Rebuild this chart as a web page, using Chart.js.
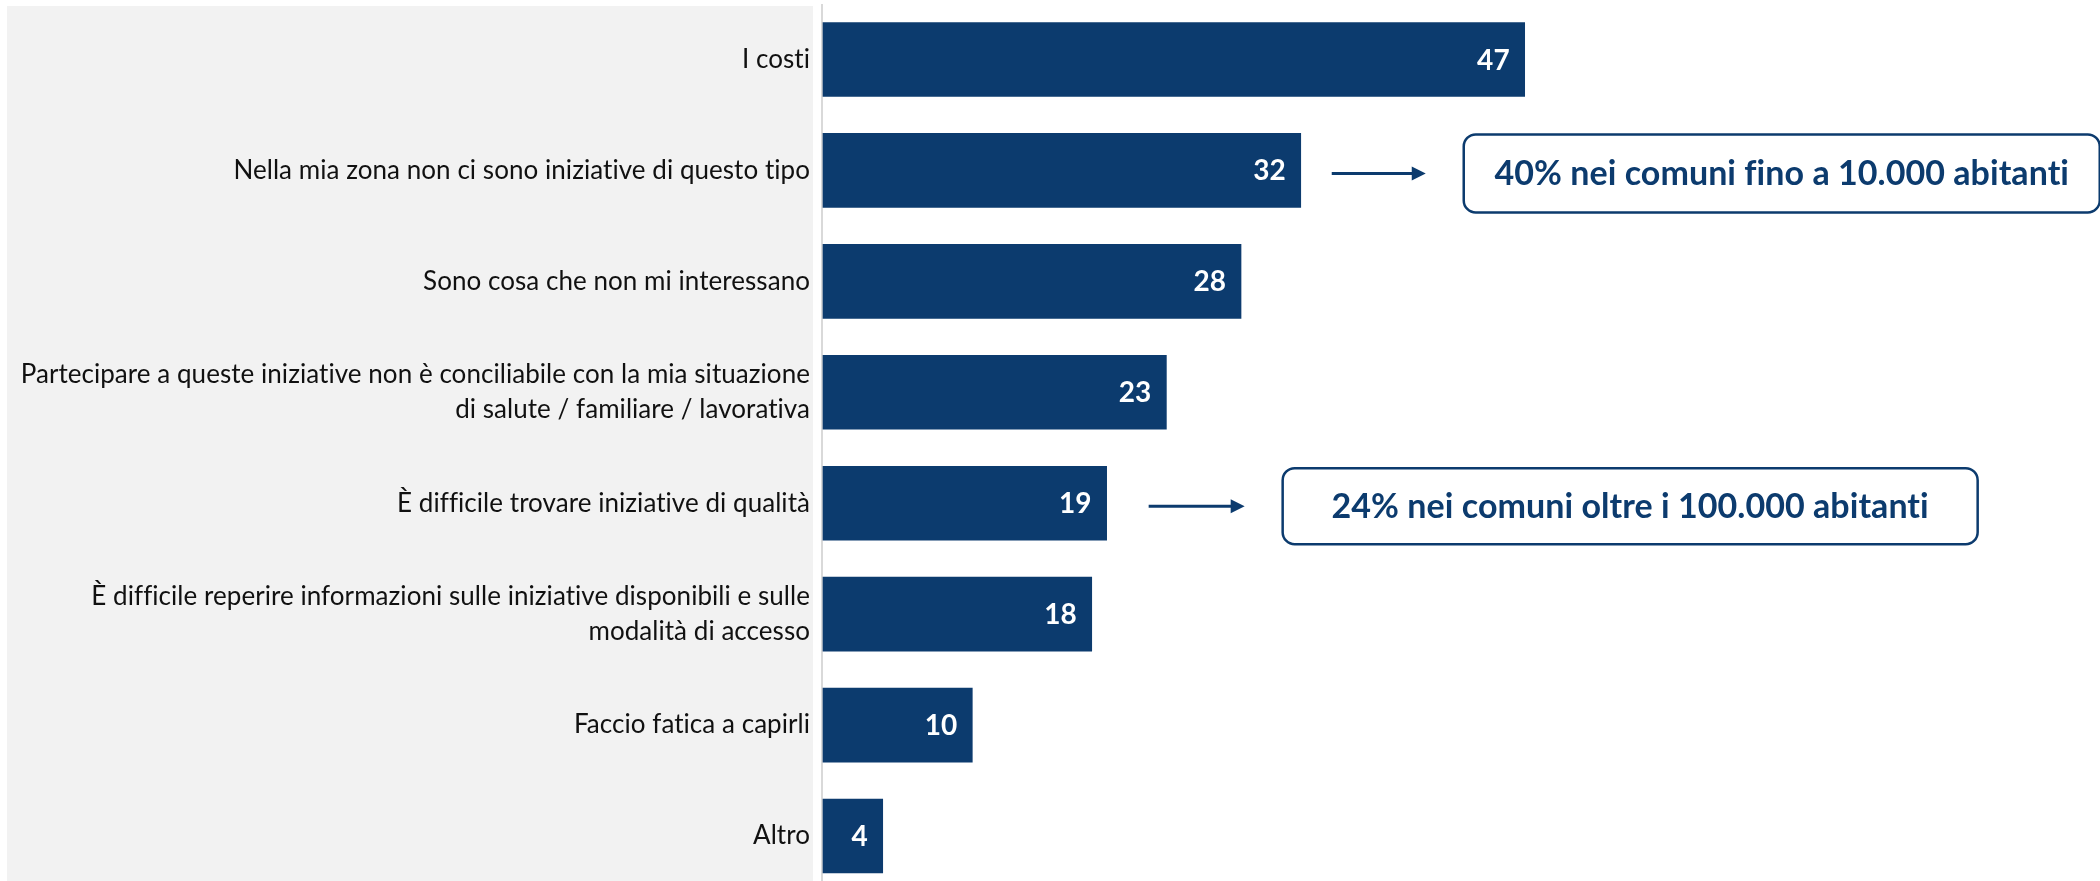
<!DOCTYPE html>
<html>
<head>
<meta charset="utf-8">
<script src="https://cdn.jsdelivr.net/npm/chart.js@4"></script>
<style>
  html, body { margin: 0; padding: 0; background: #fff; overflow: hidden; }
  #wrap { width: 2100px; height: 881px; position: relative; }
</style>
</head>
<body>
<div id="wrap"><canvas id="chart"></canvas></div>
<script>
const categories = [
  'I costi',
  'Nella mia zona non ci sono iniziative di questo tipo',
  'Sono cosa che non mi interessano',
  ['Partecipare a queste iniziative non è conciliabile con la mia situazione', 'di salute / familiare / lavorativa'],
  'È difficile trovare iniziative di qualità',
  ['È difficile reperire informazioni sulle iniziative disponibili e sulle', 'modalità di accesso'],
  'Faccio fatica a capirli',
  'Altro'
];
const values = [47, 32, 28, 23, 19, 18, 10, 4];

// notes pointing at single bars
const callouts = [
  { index: 1, text: '40% nei comuni fino a 10.000 abitanti' },
  { index: 4, text: '24% nei comuni oltre i 100.000 abitanti' }
];

const NAVY = '#0c3b6e';
const FONT = 'Lato, "Open Sans", sans-serif';

// arrow gap / arrow length / box size for each note
const calloutLayout = [
  { gap: 31, arrow: 94, boxW: 636, boxH: 78 },
  { gap: 42, arrow: 96, boxW: 695, boxH: 76 }
];

// grey panel behind the labels + the axis line
const panelPlugin = {
  id: 'panel',
  beforeDraw(chart) {
    const ctx = chart.ctx;
    // tiny spacing keeps Lato from joining "ti", "fi" into ligatures
    ctx.letterSpacing = '0.05px';
    const left = chart.chartArea.left;
    ctx.save();
    ctx.fillStyle = '#f2f2f2';
    ctx.fillRect(7, 6, left - 17, chart.height - 6);
    ctx.strokeStyle = '#d9d9d9';
    ctx.lineWidth = 2;
    ctx.beginPath();
    ctx.moveTo(left - 1, 4);
    ctx.lineTo(left - 1, chart.height);
    ctx.stroke();
    ctx.restore();
  }
};

// numbers inside the end of each bar
const valueLabels = {
  id: 'valueLabels',
  afterDatasetsDraw(chart) {
    const ctx = chart.ctx;
    const meta = chart.getDatasetMeta(0);
    ctx.save();
    ctx.fillStyle = '#fff';
    ctx.font = 'bold 28px ' + FONT;
    ctx.textAlign = 'right';
    ctx.textBaseline = 'middle';
    meta.data.forEach((bar, i) => {
      ctx.fillText(String(values[i]), bar.x - 15, bar.y + 1);
    });
    ctx.restore();
  }
};

const calloutPlugin = {
  id: 'callouts',
  afterDraw(chart) {
    const ctx = chart.ctx;
    const meta = chart.getDatasetMeta(0);
    ctx.save();
    callouts.forEach((c, i) => {
      const bar = meta.data[c.index];
      const lay = calloutLayout[i];
      const y = bar.y + 3;
      const x0 = bar.x + lay.gap;
      const x1 = x0 + lay.arrow;

      ctx.strokeStyle = NAVY;
      ctx.fillStyle = NAVY;
      ctx.lineWidth = 3;
      ctx.beginPath();
      ctx.moveTo(x0, y);
      ctx.lineTo(x1 - 10, y);
      ctx.stroke();
      ctx.beginPath();
      ctx.moveTo(x1, y);
      ctx.lineTo(x1 - 14, y - 7);
      ctx.lineTo(x1 - 14, y + 7);
      ctx.closePath();
      ctx.fill();

      const bx = x1 + 38;
      const by = y - lay.boxH / 2;
      ctx.lineWidth = 2.5;
      ctx.fillStyle = '#fff';
      ctx.beginPath();
      ctx.roundRect(bx, by, lay.boxW, lay.boxH, 12);
      ctx.fill();
      ctx.stroke();

      ctx.fillStyle = NAVY;
      ctx.font = 'bold 34px ' + FONT;
      ctx.textAlign = 'center';
      ctx.textBaseline = 'middle';
      ctx.fillText(c.text, bx + lay.boxW / 2, y + 1);
    });
    ctx.restore();
  }
};

const ctx = document.getElementById('chart').getContext('2d');
const chart = new Chart(ctx, {
  type: 'bar',
  data: {
    labels: categories,
    datasets: [{
      data: values,
      backgroundColor: NAVY,
      borderWidth: 0,
      barThickness: 74,
      clip: false
    }]
  },
  options: {
    indexAxis: 'y',
    responsive: true,
    maintainAspectRatio: false,
    animation: false,
    layout: { padding: { top: 59.5, bottom: 45, left: 0, right: 8 } },
    scales: {
      x: {
        display: false,
        min: 0,
        max: 85
      },
      y: {
        offset: false,
        afterFit: axis => { axis.width = 823; },
        border: { display: false },
        grid: { display: false, drawTicks: false },
        ticks: {
          padding: 13,
          color: '#111',
          font: { family: FONT, size: 26, lineHeight: 1.37 }
        }
      }
    },
    plugins: {
      legend: { display: false },
      tooltip: { enabled: false }
    }
  },
  plugins: [panelPlugin, valueLabels, calloutPlugin]
});
</script>
</body>
</html>
